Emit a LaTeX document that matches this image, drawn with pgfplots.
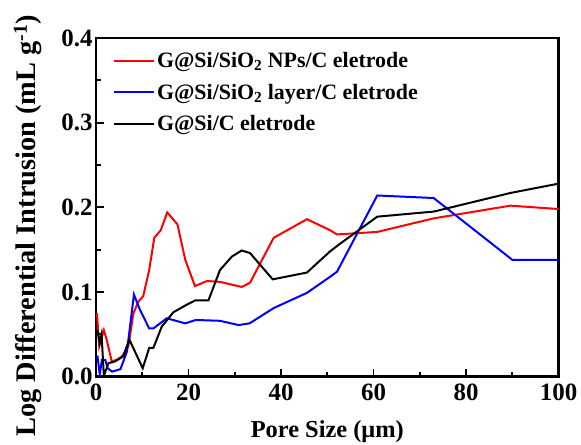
\documentclass[border=0pt]{standalone}
\usepackage{fontspec}
\setmainfont{Liberation Serif}
\usepackage{pgfplots}
\pgfplotsset{compat=1.18}
\begin{document}
\begin{tikzpicture}
\begin{axis}[
  scale only axis,
  width=462.6bp, height=338.7bp,
  xmin=0, xmax=100, ymin=0, ymax=0.4,
  xtick={0,20,...,100}, ytick={0,0.1,0.2,0.3,0.4},
  minor x tick num=1, minor y tick num=1,
  tick pos=left, tick align=inside,
  major tick length=8bp, minor tick length=5bp,
  every tick/.style={black, line width=1.8bp},
  axis line style={line width=2.5bp},
  /pgf/number format/assume math mode=true,
  ticklabel style={font=\bfseries\fontsize{25}{25}\selectfont},
  yticklabel style={/pgf/number format/.cd, fixed, fixed zerofill, precision=1},
  xticklabel style={yshift=-4bp},
  xlabel={Pore Size (μm)},
  ylabel={Log Differential Intrusion (mL g\textsuperscript{-1})},
  xlabel style={font=\bfseries\fontsize{24.5}{24.5}\selectfont, at={(axis description cs:0.5,-0.163)}, anchor=center},
  ylabel style={font=\bfseries\fontsize{28.5}{28.5}\selectfont, at={(axis description cs:-0.147,0.446)}, anchor=center},
  legend style={at={(axis description cs:0.03,0.97)}, anchor=north west, draw=none, fill=none,
    font=\bfseries\fontsize{22}{22}\selectfont, row sep=11bp,
    /tikz/every even column/.append style={column sep=3bp}},
  legend cell align=left,
  legend image code/.code={\draw[#1, line width=2bp] (0bp,0bp) -- (40bp,0bp);},
  every axis plot/.append style={line width=2bp, mark=none},
]
\coordinate (bl) at (rel axis cs:0,0);
\addplot[red] coordinates {
(0.2,0.075) (0.7,0.036) (1.7,0.055) (2.3,0.044) (3.4,0.018) (4.5,0.020) (5.6,0.024)
(7.0,0.036) (8.1,0.075) (9.2,0.089) (10.2,0.095) (11.5,0.126) (12.6,0.164) (14.0,0.173)
(15.4,0.194) (17.6,0.180) (19.3,0.138) (21.4,0.107) (24.0,0.113) (26.8,0.112) (31.5,0.106)
(33.3,0.111) (38.4,0.164) (45.6,0.186) (50.6,0.173) (52.1,0.168) (60.8,0.171) (73.0,0.187)
(89.6,0.202) (100,0.198)};
\addlegendentry{G@Si/SiO\textsubscript{2} NPs/C eletrode}
\addplot[blue] coordinates {
(0.3,0.025) (0.8,0.003) (1.3,0.020) (2.0,0.020) (2.5,0.010) (3.5,0.006) (5.3,0.009)
(6.7,0.030) (8.2,0.097) (9.5,0.079) (11.5,0.057) (12.4,0.057) (15.3,0.069) (19.3,0.063)
(21.6,0.067) (26.8,0.066) (30.8,0.061) (33.2,0.063) (38.4,0.081) (45.6,0.099) (50.6,0.118)
(52.1,0.124) (60.8,0.214) (73.0,0.211) (90.0,0.138) (100,0.138)};
\addlegendentry{G@Si/SiO\textsubscript{2} layer/C eletrode}
\addplot[black] coordinates {
(0.3,0.055) (0.8,0.040) (1.2,0.050) (1.7,0.001) (2.7,0.016) (4.1,0.018) (5.9,0.024)
(7.2,0.044) (10.1,0.010) (11.5,0.034) (12.4,0.034) (14.2,0.059) (16.7,0.076) (19.6,0.085)
(21.4,0.090) (24.3,0.090) (26.8,0.126) (29.4,0.142) (31.5,0.149) (33.3,0.146) (38.2,0.115)
(45.6,0.123) (50.6,0.148) (52.5,0.156) (60.8,0.189) (73.0,0.195) (89.6,0.217) (100,0.228)};
\addlegendentry{G@Si/C eletrode}
\end{axis}
\pgfresetboundingbox
\path ([shift={(-96bp,-68.3bp)}]bl) rectangle ++(581bp,445bp);
\end{tikzpicture}
\end{document}
